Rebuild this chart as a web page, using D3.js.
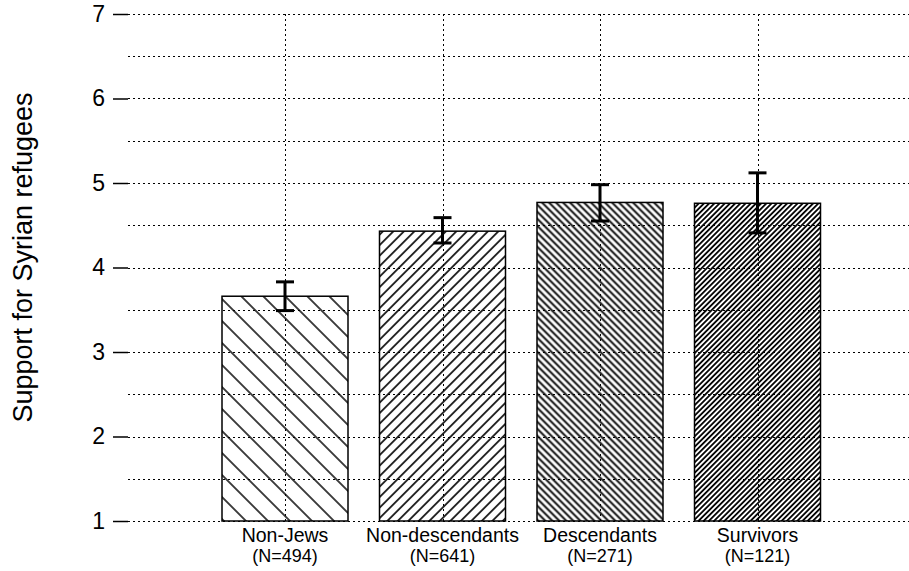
<!DOCTYPE html>
<html>
<head>
<meta charset="utf-8">
<script src="https://cdn.jsdelivr.net/npm/d3@7"></script>
<style>
  body { margin: 0; background: #fff; }
  text { font-family: "Liberation Sans", Arial, Helvetica, sans-serif; fill: #000; }
</style>
</head>
<body>
<svg id="svg"></svg>
<script>
'use strict';

// ================================= data ======================================
var groups = ["Non-Jews", "Non-descendants", "Descendants", "Survivors"];
var groupN = ["(N=494)", "(N=641)", "(N=271)", "(N=121)"];
var means = [3.66, 4.43, 4.77, 4.76];
var errLow = [3.49, 4.29, 4.55, 4.41];
var errHigh = [3.83, 4.59, 4.98, 5.12];
var yTicks = [1, 2, 3, 4, 5, 6, 7];
var yHalfTicks = [1.5, 2.5, 3.5, 4.5, 5.5, 6.5];
var yLabel = "Support for Syrian refugees";

// hatching per bar: horizontal spacing, direction ("\" = -1, "/" = 1), line width
var hatchSpacing = [22, 10.5, 7, 5.2];
var hatchDir = [-1, 1, -1, 1];
var hatchWidth = [1.5, 1.6, 1.9, 1.8];

// ================================= setup ======================================
var width = 909;
var height = 571;

var svg = d3.select("#svg")
    .attr("width", width)
    .attr("height", height);

var y = d3.scaleLinear()
    .domain([1, 7])
    .range([521, 14]);

var x = d3.scaleBand()
    .domain(groups)
    .range([206.25, 836.25])
    .paddingInner(0.2)
    .paddingOuter(0.1);

var gridLeft = 128;

// hatch patterns
var defs = svg.append("defs");
groups.forEach((g, i) => {
    let s = hatchSpacing[i] / Math.SQRT2;
    let p = defs.append("pattern")
        .attr("id", "hatch" + i)
        .attr("patternUnits", "userSpaceOnUse")
        .attr("width", s)
        .attr("height", s)
        .attr("patternTransform", "rotate(" + (45 * hatchDir[i]) + ")");
    p.append("line")
        .attr("x1", s / 2).attr("y1", -1)
        .attr("x2", s / 2).attr("y2", s + 1)
        .attr("stroke", "#000")
        .attr("stroke-width", hatchWidth[i]);
});

// ================================= bars ======================================
svg.append("g")
    .selectAll("rect")
    .data(means)
    .join("rect")
    .attr("x", (d, i) => x(groups[i]))
    .attr("y", d => y(d))
    .attr("width", x.bandwidth())
    .attr("height", d => y(1) - y(d))
    .attr("fill", (d, i) => "url(#hatch" + i + ")");

// ================================= grid ======================================
var grid = svg.append("g")
    .attr("stroke", "#000")
    .attr("stroke-width", 1)
    .attr("stroke-dasharray", "2,3");

grid.selectAll("line.h")
    .data(yTicks.concat(yHalfTicks))
    .join("line")
    .attr("class", "h")
    .attr("x1", gridLeft)
    .attr("x2", width)
    .attr("y1", d => Math.round(y(d)) + 0.5)
    .attr("y2", d => Math.round(y(d)) + 0.5);

grid.selectAll("line.v")
    .data(groups)
    .join("line")
    .attr("class", "v")
    .attr("x1", d => Math.round(x(d) + x.bandwidth() / 2) + 0.5)
    .attr("x2", d => Math.round(x(d) + x.bandwidth() / 2) + 0.5)
    .attr("y1", y(7))
    .attr("y2", y(1));

// bar outlines on top of the grid
svg.append("g")
    .selectAll("rect")
    .data(means)
    .join("rect")
    .attr("x", (d, i) => x(groups[i]))
    .attr("y", d => y(d))
    .attr("width", x.bandwidth())
    .attr("height", d => y(1) - y(d))
    .attr("fill", "none")
    .attr("stroke", "#000")
    .attr("stroke-width", 1.5);

// ================================= error bars ======================================
var err = svg.append("g")
    .attr("stroke", "#000")
    .attr("stroke-width", 3);

groups.forEach((g, i) => {
    let cx = x(g) + x.bandwidth() / 2;
    err.append("line")
        .attr("x1", cx).attr("x2", cx)
        .attr("y1", y(errLow[i])).attr("y2", y(errHigh[i]));
    [errLow[i], errHigh[i]].forEach(v => {
        err.append("line")
            .attr("x1", cx - 9).attr("x2", cx + 9)
            .attr("y1", y(v)).attr("y2", y(v));
    });
});

// ================================= axes ======================================
var yAxis = d3.axisLeft(y)
    .tickValues(yTicks)
    .tickSize(15)
    .tickPadding(8)
    .tickFormat(d3.format("d"));

var ya = svg.append("g")
    .attr("transform", "translate(" + gridLeft + ",0)")
    .call(yAxis);
ya.attr("font-family", null).attr("font-size", null);
ya.select(".domain").remove();
ya.selectAll(".tick line").attr("stroke-width", 1.5);
ya.selectAll(".tick text")
    .style("font-size", "23px");

svg.append("text")
    .attr("transform", "translate(32," + ((y(1) + y(7)) / 2 - 10) + ") rotate(-90)")
    .attr("text-anchor", "middle")
    .style("font-size", "27px")
    .text(yLabel);

// category labels
var xl = svg.append("g")
    .selectAll("g")
    .data(groups)
    .join("g")
    .attr("transform", d => "translate(" + (x(d) + x.bandwidth() / 2) + ",0)");

xl.append("text")
    .attr("y", 542)
    .attr("text-anchor", "middle")
    .style("font-size", "19.5px")
    .text(d => d);

xl.append("text")
    .attr("y", 562)
    .attr("text-anchor", "middle")
    .style("font-size", "18px")
    .text((d, i) => groupN[i]);
</script>
</body>
</html>
